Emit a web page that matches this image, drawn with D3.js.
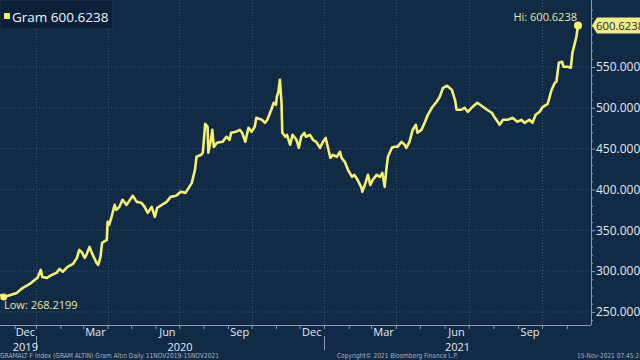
<!DOCTYPE html>
<html>
<head>
<meta charset="utf-8">
<script src="https://cdn.jsdelivr.net/npm/d3@7"></script>
<style>
  html, body { margin: 0; padding: 0; background: #112a46; }
  svg { display: block; font-family: "Open Sans", sans-serif; }
</style>
</head>
<body>
<svg id="chart" width="640" height="360"></svg>
<script>
// ---- data ----
const seriesName = "Gram";
const lastValue = 600.6238;
const hiValue = 600.6238;
const lowValue = 268.2199;
const dates = [
"2019-11-11","2019-11-15","2019-11-25","2019-12-04","2019-12-09","2019-12-13","2019-12-23","2019-12-30",
"2020-01-03","2020-01-07","2020-01-09","2020-01-15","2020-01-21","2020-01-27","2020-01-31","2020-02-04",
"2020-02-10","2020-02-17","2020-02-22","2020-02-25","2020-02-28","2020-03-03","2020-03-05","2020-03-09",
"2020-03-12","2020-03-18","2020-03-20","2020-03-23","2020-03-25","2020-03-31","2020-04-01","2020-04-03",
"2020-04-06","2020-04-10","2020-04-12","2020-04-16","2020-04-20","2020-04-25","2020-05-03","2020-05-08",
"2020-05-14","2020-05-18","2020-05-22","2020-05-27","2020-05-31","2020-06-03","2020-06-09","2020-06-15",
"2020-06-20","2020-06-27","2020-07-03","2020-07-09","2020-07-13","2020-07-17","2020-07-21","2020-07-23",
"2020-07-29","2020-07-31","2020-08-03","2020-08-06","2020-08-07","2020-08-11","2020-08-12","2020-08-14",
"2020-08-18","2020-08-25","2020-08-30","2020-09-03","2020-09-05","2020-09-11","2020-09-16","2020-09-19",
"2020-09-23","2020-09-27","2020-10-01","2020-10-05","2020-10-07","2020-10-14","2020-10-18","2020-10-21",
"2020-10-26","2020-10-29","2020-11-01","2020-11-02","2020-11-04","2020-11-06","2020-11-08","2020-11-09",
"2020-11-13","2020-11-15","2020-11-19","2020-11-22","2020-11-27","2020-11-30","2020-12-03","2020-12-07",
"2020-12-09","2020-12-14","2020-12-18","2020-12-22","2020-12-27","2020-12-30",
"2021-01-03","2021-01-06","2021-01-09","2021-01-12","2021-01-17","2021-01-21","2021-01-23","2021-01-27",
"2021-01-31","2021-02-05","2021-02-08","2021-02-12","2021-02-17","2021-02-18","2021-02-22","2021-02-25",
"2021-02-28","2021-03-03","2021-03-08","2021-03-12","2021-03-15","2021-03-18","2021-03-20","2021-03-22",
"2021-03-27","2021-03-30","2021-04-03","2021-04-08","2021-04-12","2021-04-14","2021-04-18","2021-04-22",
"2021-04-26","2021-04-28","2021-05-03","2021-05-07","2021-05-11","2021-05-16","2021-05-22","2021-05-26",
"2021-05-30","2021-06-04","2021-06-07","2021-06-10","2021-06-14","2021-06-16","2021-06-22","2021-06-26",
"2021-06-30","2021-07-06","2021-07-12","2021-07-19","2021-07-24","2021-07-30","2021-08-03","2021-08-09",
"2021-08-13","2021-08-19","2021-08-25","2021-08-31","2021-09-05","2021-09-09","2021-09-15","2021-09-19",
"2021-09-23","2021-09-28","2021-10-02","2021-10-08","2021-10-13","2021-10-17","2021-10-19","2021-10-22",
"2021-10-26","2021-10-28","2021-11-02","2021-11-06","2021-11-08","2021-11-13","2021-11-15"
];
const values = [
270.5,268.22,270.8,273.3,277.0,279.4,284.3,289.2,
291.7,301.5,292.9,291.7,295.3,297.8,302.7,299.0,
305.1,308.8,316.2,326.0,323.5,316.2,319.9,329.7,
322.3,310.0,307.6,317.4,334.6,338.2,360.3,356.6,
366.4,381.1,375.0,378.7,387.3,381.1,392.2,384.8,
383.6,378.7,371.3,378.7,366.4,377.5,381.1,384.8,
390.9,392.2,397.1,395.8,402.0,408.1,424.0,440.0,
442.4,444.9,480.4,476.7,444.9,464.5,473.0,452.2,
457.1,458.3,464.5,460.8,469.4,470.6,473.0,469.4,
458.3,475.5,470.6,476.7,487.7,485.3,481.6,485.3,
497.6,506.1,503.7,513.5,519.6,534.3,506.1,469.4,
464.5,466.9,454.7,466.9,460.8,451.0,464.5,469.4,
464.5,466.9,460.8,458.3,451.0,457.1,
463.2,451.0,438.7,442.4,440.0,446.1,438.7,433.8,
424.0,415.4,417.9,411.8,402.0,397.1,408.1,417.9,
405.6,411.8,417.9,415.4,420.3,403.2,424.0,440.0,
451.0,452.2,452.2,458.3,454.7,451.0,458.3,473.0,
479.2,469.4,473.0,481.6,491.4,500.0,507.4,513.5,
524.5,527.0,524.5,522.1,509.8,497.6,497.6,500.0,
495.1,501.2,506.1,501.2,497.6,493.9,487.7,479.2,
485.3,485.3,487.7,482.8,485.3,481.6,485.3,481.6,
491.4,495.1,501.2,504.9,522.1,530.6,531.9,555.1,
556.4,550.2,550.2,549.0,567.4,587.0,600.6238
];
const yTickValues = [250, 300, 350, 400, 450, 500, 550];
const monthLabels = ["Dec", "Mar", "Jun", "Sep"];
const yearLabels = ["2019", "2020", "2021"];
const footerLeft = "GRAMALT F Index (GRAM ALTIN) Gram Altın  Daily 11NOV2019-15NOV2021";
const footerMid = "Copyright© 2021 Bloomberg Finance L.P.";
const footerRight = "15-Nov-2021 07:45:24";

// ---- layout / style ----
const W = 640, H = 360;
const plotR = 591, plotB = 325;
const bg = "#112a46", lineCol = "#f7f06e", labelCol = "#e9e8a0", txt = "#e6e9ee", axisCol = "#8c9cac", gridCol = "#3a5674";

const parse = d3.timeParse("%Y-%m-%d");
const data = dates.map((d, i) => ({ date: parse(d), value: values[i] }));

const svg = d3.select("#chart");
svg.append("rect").attr("width", W).attr("height", H).attr("fill", bg);

const x = d3.scaleTime()
  .domain([parse("2019-11-11"), parse("2020-01-01"), parse("2021-01-01"), parse("2021-11-15"), parse("2021-12-02")])
  .range([1, 36, 324, 578, plotR]);
const y = d3.scaleLinear().domain([234, 632]).range([plotB, 0]);

// gridlines
const quarterStarts = d3.timeMonth.every(3).range(parse("2019-11-01"), parse("2021-12-01"))
  .filter(d => x(d) > 0 && x(d) < plotR);
svg.append("g").selectAll("line").data(yTickValues).join("line")
  .attr("x1", 0).attr("x2", plotR).attr("y1", d => y(d)).attr("y2", d => y(d))
  .attr("stroke", gridCol).attr("stroke-width", 1).attr("stroke-dasharray", "1,2");
svg.append("g").selectAll("line").data(quarterStarts).join("line")
  .attr("x1", d => Math.round(x(d)) + 0.5).attr("x2", d => Math.round(x(d)) + 0.5)
  .attr("y1", 0).attr("y2", plotB)
  .attr("stroke", gridCol).attr("stroke-width", 1).attr("stroke-dasharray", "1,2");

// axes
const months = d3.timeMonth.range(parse("2019-11-01"), parse("2021-12-01")).filter(d => x(d) > 0 && x(d) < plotR);
const xAxis = d3.axisBottom(x).tickValues(months).tickSize(4).tickFormat("");
const gx = svg.append("g").attr("transform", `translate(0,${plotB})`).call(xAxis);
gx.select(".domain").attr("d", `M0,0.5H${plotR}`).attr("stroke", axisCol);
gx.selectAll(".tick line").attr("stroke", axisCol);

const yAxis = d3.axisRight(y).tickValues(yTickValues).tickSize(4).tickPadding(1).tickFormat(d3.format(".4f"));
const gy = svg.append("g").attr("transform", `translate(${plotR},0)`).call(yAxis);
gy.select(".domain").attr("d", `M0.5,0V${plotB}`).attr("stroke", axisCol);
gy.selectAll(".tick line").attr("stroke", axisCol);
gy.selectAll(".tick text").attr("fill", txt).attr("font-size", 12).attr("font-family", "Open Sans");
const minorY = d3.range(240, 630, 10).filter(v => !yTickValues.includes(v));
gy.append("g").selectAll("line").data(minorY).join("line")
  .attr("x1", 0).attr("x2", 2).attr("y1", d => y(d) + 0.5).attr("y2", d => y(d) + 0.5)
  .attr("stroke", axisCol);

// month labels (centered in month)
const labelled = months.concat([parse("2019-11-01")]).filter(d => monthLabels.includes(d3.timeFormat("%b")(d)));
svg.append("g").selectAll("text").data(labelled).join("text")
  .attr("x", d => (x(d) + x(d3.timeMonth.offset(d, 1))) / 2)
  .attr("y", 335.5).attr("text-anchor", "middle").attr("fill", txt).attr("font-size", 11)
  .text(d => d3.timeFormat("%b")(d));
// year separators + labels
const yearStarts = [parse("2020-01-01"), parse("2021-01-01")];
svg.append("g").selectAll("line").data(yearStarts).join("line")
  .attr("x1", d => Math.round(x(d)) + 0.5).attr("x2", d => Math.round(x(d)) + 0.5)
  .attr("y1", 336).attr("y2", 350).attr("stroke", axisCol);
const yearCenters = [(x(parse("2019-12-01")) + x(parse("2020-01-01"))) / 2,
  (x(parse("2020-01-01")) + x(parse("2021-01-01"))) / 2,
  (x(parse("2021-01-01")) + plotR) / 2];
svg.append("g").selectAll("text").data(yearLabels).join("text")
  .attr("x", (d, i) => yearCenters[i]).attr("y", 350.5).attr("text-anchor", "middle")
  .attr("fill", txt).attr("font-size", 11).text(d => d);

// line
svg.append("defs").append("clipPath").attr("id", "clip").append("rect")
  .attr("x", 0).attr("y", 0).attr("width", plotR).attr("height", plotB);
svg.append("path").datum(data).attr("clip-path", "url(#clip)")
  .attr("fill", "none").attr("stroke", lineCol).attr("stroke-width", 2.6)
  .attr("stroke-linejoin", "round").attr("stroke-linecap", "round")
  .attr("d", d3.line().x(d => x(d.date)).y(d => y(d.value)));

// hi / low markers
const hiPt = data.reduce((a, b) => (b.value > a.value ? b : a));
const loPt = data.reduce((a, b) => (b.value < a.value ? b : a));
svg.append("circle").attr("cx", x(hiPt.date)).attr("cy", y(hiPt.value)).attr("r", 4).attr("fill", lineCol);
svg.append("circle").attr("cx", x(loPt.date)).attr("cy", y(loPt.value)).attr("r", 3.5).attr("fill", lineCol)
  .attr("clip-path", "url(#clip)");
svg.append("text").attr("x", x(hiPt.date) - 1).attr("y", y(hiPt.value) - 5).attr("text-anchor", "end")
  .attr("fill", labelCol).attr("font-size", 11).text("Hi: " + d3.format(".4f")(hiValue));
svg.append("text").attr("x", 4).attr("y", y(loPt.value) + 12)
  .attr("fill", labelCol).attr("font-size", 11).text("Low: " + d3.format(".4f")(lowValue));

// last price box
const py = y(lastValue);
svg.append("path")
  .attr("d", `M${plotR + 1},${py} L${plotR + 6},${py - 8} H${W} V${py + 8} H${plotR + 6} Z`)
  .attr("fill", "#f2ec86");
svg.append("text").attr("x", plotR + 5).attr("y", py + 4).attr("fill", "#1a2a40")
  .attr("font-size", 11.3).text(d3.format(".4f")(lastValue));

// legend
svg.append("rect").attr("x", 0).attr("y", 0).attr("width", 113).attr("height", 29)
  .attr("fill", "#0c2139").attr("stroke", "#1d3856");
svg.append("rect").attr("x", 4).attr("y", 13).attr("width", 6).attr("height", 6).attr("fill", "#eef06a");
svg.append("text").attr("x", 12).attr("y", 21.5).attr("fill", "#f2f4f6").attr("font-size", 13.5)
  .text(seriesName + " " + d3.format(".4f")(lastValue));

// footer
const foot = svg.append("g").attr("fill", "#aab4c0").attr("font-size", 7).attr("font-family", "DejaVu Sans");
foot.append("text").attr("x", 0).attr("y", 358).attr("textLength", 219).attr("lengthAdjust", "spacingAndGlyphs").text(footerLeft);
foot.append("text").attr("x", 337).attr("y", 358).attr("textLength", 121).attr("lengthAdjust", "spacingAndGlyphs").text(footerMid);
foot.append("text").attr("x", 577).attr("y", 358).attr("textLength", 66).attr("lengthAdjust", "spacingAndGlyphs").text(footerRight);
</script>
</body>
</html>
